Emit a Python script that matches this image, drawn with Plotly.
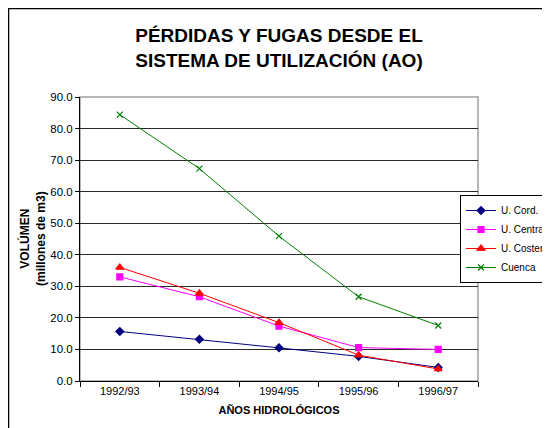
import plotly.graph_objects as go

years = ["1992/93", "1993/94", "1994/95", "1995/96", "1996/97"]
u_cord = [15.7, 13.2, 10.5, 7.8, 4.3]
u_central = [33.0, 26.7, 17.4, 10.6, 10.0]
u_costera = [36.0, 27.8, 18.5, 8.2, 3.8]
cuenca = [84.4, 67.3, 45.9, 26.7, 17.6]

series = [
    ("U. Cord.", u_cord, "#000080", "diamond", 6),
    ("U. Central", u_central, "#FF00FF", "square", 6),
    ("U. Costera", u_costera, "#FF0000", "triangle-up", 7),
    ("Cuenca", cuenca, "#008000", "x-thin", 6),
]

FONT = "Liberation Sans, Arial, sans-serif"

# page body has an 8px margin, so the figure is drawn 8px smaller
W, H = 542, 420
L, R, T, B = 72, 72, 89, 47
plot_w = W - L - R
plot_h = H - T - B

fig = go.Figure()
for name, values, color, symbol, size in series:
    fig.add_trace(
        go.Scatter(
            x=years,
            y=values,
            name=name,
            mode="lines+markers",
            line={"color": color, "width": 1},
            marker={
                "symbol": symbol,
                "size": size,
                "color": color,
                "line": {"color": color, "width": 1.2},
            },
        )
    )

fig.update_layout(
    width=W,
    height=H,
    margin={"l": L, "r": R, "t": T, "b": B, "autoexpand": False},
    paper_bgcolor="white",
    plot_bgcolor="white",
    font={"family": FONT, "size": 11, "color": "#000000"},
    title={
        "text": "<b>PÉRDIDAS Y FUGAS DESDE EL<br>SISTEMA DE UTILIZACIÓN (AO)</b>",
        "x": 0.5,
        "xanchor": "center",
        "y": 1 - 34 / H,
        "yanchor": "middle",
        "font": {"family": FONT, "size": 19, "color": "#000000"},
    },
    legend={
        "xref": "container",
        "yref": "container",
        "x": 452 / W,
        "xanchor": "left",
        "y": 1 - 231 / H,
        "yanchor": "middle",
        "bordercolor": "#000000",
        "borderwidth": 1,
        "bgcolor": "white",
        "font": {"family": FONT, "size": 10},
        "tracegroupgap": 0,
        "itemwidth": 30,
    },
    showlegend=True,
)

fig.update_xaxes(
    type="category",
    range=[-0.5, 4.5],
    tickson="boundaries",
    ticks="outside",
    ticklen=5,
    tickcolor="#000000",
    showline=True,
    linecolor="#000000",
    linewidth=1,
    showgrid=False,
    tickfont={"size": 11},
    title={"text": "<b>AÑOS HIDROLÓGICOS</b>", "font": {"size": 11}, "standoff": 10},
)

fig.update_yaxes(
    range=[0, 90],
    dtick=10,
    tickformat=".1f",
    ticks="outside",
    ticklen=4,
    tickcolor="#000000",
    showline=True,
    linecolor="#000000",
    linewidth=1,
    showgrid=True,
    gridcolor="#2a2a2a",
    gridwidth=1,
    zeroline=False,
    tickfont={"size": 11.5},
)

# gray frame of the plot area
fig.add_shape(
    type="rect", xref="paper", yref="paper", x0=0, x1=1, y0=0, y1=1,
    line={"color": "#A0A0A0", "width": 1.5}, layer="below",
)

fig.add_annotation(
    text="<b>VOLÚMEN<br>(millones de m3)</b>",
    xref="paper", yref="paper",
    x=(24 - L) / plot_w, y=0.5,
    xanchor="center", yanchor="middle",
    textangle=-90, showarrow=False,
    font={"family": FONT, "size": 12},
)

# outer chart border
fig.add_shape(
    type="rect", xref="paper", yref="paper",
    x0=(0.5 - L) / plot_w, x1=1.5, y0=-0.5, y1=1 + (T - 0.5) / plot_h,
    line={"color": "#000000", "width": 1.5},
)

fig.write_html("out.html")
